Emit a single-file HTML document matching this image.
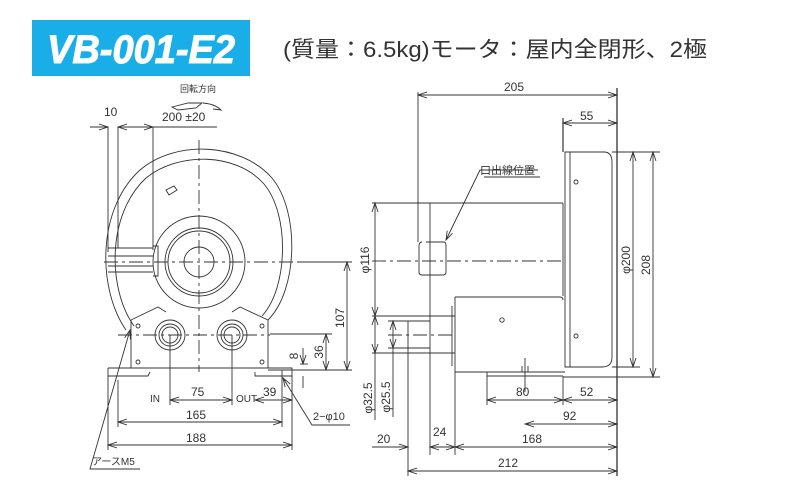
<!DOCTYPE html>
<html><head><meta charset="utf-8">
<style>
html,body{margin:0;padding:0;background:#fff;width:800px;height:480px;overflow:hidden}
svg{display:block}
text{font-family:"Liberation Sans","Noto Sans CJK JP",sans-serif;fill:#333}
</style></head><body>
<svg width="800" height="480" viewBox="0 0 800 480" xmlns="http://www.w3.org/2000/svg">
<defs>
<marker id="a" markerWidth="10" markerHeight="8" refX="9" refY="4" orient="auto-start-reverse" markerUnits="userSpaceOnUse">
<path d="M0,1 L9,4 L0,7" fill="none" stroke="#333" stroke-width="0.9"/>
</marker>
</defs>
<!-- title -->
<rect x="32" y="20" width="218" height="56" fill="#1aaee8"/>
<text x="141" y="63" text-anchor="middle" font-size="40" font-weight="bold" font-style="italic" style="fill:#fff;stroke:#fff;stroke-width:1" textLength="188" lengthAdjust="spacingAndGlyphs">VB-001-E2</text>
<text x="283" y="57" font-size="22" textLength="424" lengthAdjust="spacingAndGlyphs">(質量：6.5kg)モータ：屋内全閉形、2極</text>

<g fill="none" stroke="#333" stroke-width="0.9">
<!-- LEFT VIEW -->
<path d="M126,330 C98,290 96,210 140,170 C175,140 240,142 272,178 C300,212 298,290 268,320"/>
<path d="M134,326 C108,290 106,215 146,178 C178,152 236,152 264,184 C290,215 288,288 262,316"/>
<circle cx="199" cy="262" r="46"/>
<circle cx="199" cy="262" r="34"/>
<circle cx="199" cy="262" r="31"/>
<circle cx="199" cy="262" r="15"/>
<path d="M166,190 l8,-4 l3,4 l-8,5 z"/>
<path d="M131,320 L131,368 L268,368 L268,320 L240,307 L232,312 M131,320 L158,307 L166,312"/>
<circle cx="170" cy="335" r="15"/><circle cx="170" cy="335" r="11"/><circle cx="170" cy="335" r="8"/>
<circle cx="232" cy="335" r="15"/><circle cx="232" cy="335" r="11"/><circle cx="232" cy="335" r="8"/>
<circle cx="138" cy="326" r="2"/><circle cx="262" cy="326" r="2"/>
<circle cx="138" cy="362" r="2"/><circle cx="262" cy="362" r="2"/>
<path d="M108,368 L108,376 L148,376 L150,372 M108,368 L131,368"/>
<path d="M255,372 L255,376 L292,376 L292,368 L268,368"/>
<path d="M108,127 L108,252 M118,127 L118,248 M153,127 L153,250"/>
<path d="M108,248 L153,248 M108,256 L153,256 M108,266 L153,266 M108,272 L153,272"/>
<path d="M153,246 L158,246 L158,276 L153,276"/>
<line x1="90" y1="127" x2="108" y2="127" marker-end="url(#a)"/>
<line x1="118" y1="127" x2="153" y2="127" marker-start="url(#a)" marker-end="url(#a)"/>
<line x1="153" y1="127" x2="217" y2="127"/>
<path d="M172,107 l16,-4 l14,0 l-6,5 l-18,2 z"/>
<path d="M203,103 q12,1 18,7 l-8,-1"/>
<g stroke-dasharray="14,4,3,4">
<line x1="199" y1="140" x2="199" y2="372"/>
<line x1="104" y1="262" x2="300" y2="262"/>
<line x1="118" y1="335" x2="270" y2="335"/>
<line x1="372" y1="261" x2="565" y2="261"/>
<line x1="388" y1="335" x2="455" y2="335"/>
</g>
<line x1="170" y1="335" x2="170" y2="405"/>
<line x1="232" y1="335" x2="232" y2="405"/>
<line x1="300" y1="262" x2="352" y2="262"/>
<line x1="270" y1="334" x2="332" y2="334"/>
<line x1="268" y1="370" x2="352" y2="370"/>
<line x1="347" y1="262" x2="347" y2="370" marker-start="url(#a)" marker-end="url(#a)"/>
<line x1="326" y1="334" x2="326" y2="370" marker-start="url(#a)" marker-end="url(#a)"/>
<line x1="303" y1="348" x2="303" y2="364" marker-end="url(#a)"/>
<line x1="303" y1="376" x2="303" y2="388"/>
<line x1="300" y1="364" x2="308" y2="364"/>
<line x1="108" y1="376" x2="108" y2="450"/>
<line x1="118" y1="380" x2="118" y2="427"/>
<line x1="282" y1="370" x2="282" y2="427"/>
<line x1="292" y1="376" x2="292" y2="450"/>
<line x1="255" y1="400" x2="292" y2="400" marker-start="url(#a)" marker-end="url(#a)"/>
<line x1="170" y1="400" x2="232" y2="400" marker-start="url(#a)" marker-end="url(#a)"/>
<line x1="118" y1="422" x2="282" y2="422" marker-start="url(#a)" marker-end="url(#a)"/>
<line x1="108" y1="445" x2="292" y2="445" marker-start="url(#a)" marker-end="url(#a)"/>
<path d="M350,425 L312,425 L283,378" marker-end="url(#a)"/>
<path d="M140,469 L90,469 L130,330" marker-end="url(#a)"/>

<!-- RIGHT VIEW -->
<line x1="418" y1="92" x2="418" y2="242"/>
<line x1="617" y1="88" x2="617" y2="476" stroke-width="1.3"/>
<line x1="563" y1="118" x2="563" y2="152" stroke-width="1.2"/>
<line x1="418" y1="95" x2="617" y2="95" marker-start="url(#a)" marker-end="url(#a)"/>
<line x1="563" y1="123" x2="617" y2="123" marker-start="url(#a)" marker-end="url(#a)"/>
<path d="M565,152 L604,152 Q612,152 612,162 L612,357 Q612,367 602,367 L565,367 Z"/>
<line x1="570" y1="152" x2="570" y2="367"/>
<circle cx="576" cy="182" r="2"/><circle cx="576" cy="336" r="2"/>
<line x1="612" y1="152" x2="660" y2="152"/>
<line x1="612" y1="367" x2="640" y2="367"/>
<line x1="563" y1="377" x2="660" y2="377"/>
<line x1="633" y1="152" x2="633" y2="367" marker-start="url(#a)" marker-end="url(#a)"/>
<line x1="653" y1="152" x2="653" y2="377" marker-start="url(#a)" marker-end="url(#a)"/>
<line x1="372" y1="203" x2="563" y2="203"/>
<line x1="430" y1="203" x2="430" y2="316"/>
<line x1="563" y1="203" x2="563" y2="296"/>
<path d="M426,242 L444,242 Q446,242 446,246 L446,272 Q446,275 443,275 L422,275 Q419,275 419,272 L419,246 Q419,242 422,242"/>
<path d="M538,170 L480,170 L446,240" marker-end="url(#a)"/>
<path d="M455,297 L560,297 Q563,297 563,300 M455,297 L455,372 L565,372"/>
<line x1="452" y1="306" x2="452" y2="366"/>
<circle cx="502" cy="320" r="2.2"/>
<path d="M487,372 L487,376 L563,376"/>
<path d="M525,358 L525,392 M522,366 L522,372 M528,366 L528,372"/>
<line x1="372" y1="316" x2="455" y2="316"/>
<line x1="372" y1="353" x2="455" y2="353"/>
<line x1="388" y1="321" x2="430" y2="321"/>
<line x1="388" y1="348" x2="430" y2="348"/>
<line x1="408" y1="321" x2="408" y2="476"/>
<line x1="430" y1="316" x2="430" y2="455"/>
<line x1="455" y1="372" x2="455" y2="455"/>
<line x1="487" y1="376" x2="487" y2="405"/>
<line x1="563" y1="376" x2="563" y2="405"/>
<line x1="375" y1="203" x2="375" y2="316" marker-start="url(#a)" marker-end="url(#a)"/>
<line x1="375" y1="316" x2="375" y2="353" marker-start="url(#a)" marker-end="url(#a)"/>
<line x1="393" y1="321" x2="393" y2="348" marker-start="url(#a)" marker-end="url(#a)"/>
<line x1="375" y1="353" x2="375" y2="420"/>
<line x1="393" y1="348" x2="393" y2="417"/>
<line x1="487" y1="400" x2="563" y2="400" marker-start="url(#a)" marker-end="url(#a)"/>
<line x1="563" y1="400" x2="617" y2="400" marker-start="url(#a)" marker-end="url(#a)"/>
<line x1="525" y1="424" x2="617" y2="424" marker-start="url(#a)" marker-end="url(#a)"/>
<line x1="455" y1="447" x2="617" y2="447" marker-start="url(#a)" marker-end="url(#a)"/>
<line x1="372" y1="447" x2="408" y2="447" marker-end="url(#a)"/>
<line x1="430" y1="447" x2="455" y2="447" marker-start="url(#a)" marker-end="url(#a)"/>
<line x1="408" y1="471" x2="617" y2="471" marker-start="url(#a)" marker-end="url(#a)"/>
<line x1="484" y1="177" x2="540" y2="177"/>
</g>

<g font-size="12">
<text x="180" y="92" font-size="9">回転方向</text>
<text x="104" y="116">10</text>
<text x="162" y="121">200 ±20</text>
<text x="150" y="402" font-size="10">IN</text>
<text x="236" y="402" font-size="10">OUT</text>
<text x="191" y="396">75</text>
<text x="263" y="396">39</text>
<text x="186" y="419">165</text>
<text x="186" y="442">188</text>
<text x="313" y="420" font-size="11">2−φ10</text>
<text x="92" y="465" font-size="10">アースM5</text>
<text transform="translate(344,318) rotate(-90)" text-anchor="middle">107</text>
<text transform="translate(323,352) rotate(-90)" text-anchor="middle">36</text>
<text transform="translate(298,356) rotate(-90)" text-anchor="middle">8</text>
<text x="504" y="91">205</text>
<text x="580" y="120">55</text>
<text x="480" y="174" font-size="11">口出線位置</text>
<text transform="translate(369,260) rotate(-90)" text-anchor="middle">φ116</text>
<text transform="translate(630,260) rotate(-90)" text-anchor="middle">φ200</text>
<text transform="translate(650,265) rotate(-90)" text-anchor="middle">208</text>
<text transform="translate(372,398) rotate(-90)" text-anchor="middle">φ32.5</text>
<text transform="translate(390,397) rotate(-90)" text-anchor="middle">φ25.5</text>
<text x="516" y="396">80</text>
<text x="580" y="396">52</text>
<text x="563" y="420">92</text>
<text x="522" y="443">168</text>
<text x="377" y="443">20</text>
<text x="433" y="436">24</text>
<text x="498" y="467">212</text>
</g>
</svg>
</body></html>
